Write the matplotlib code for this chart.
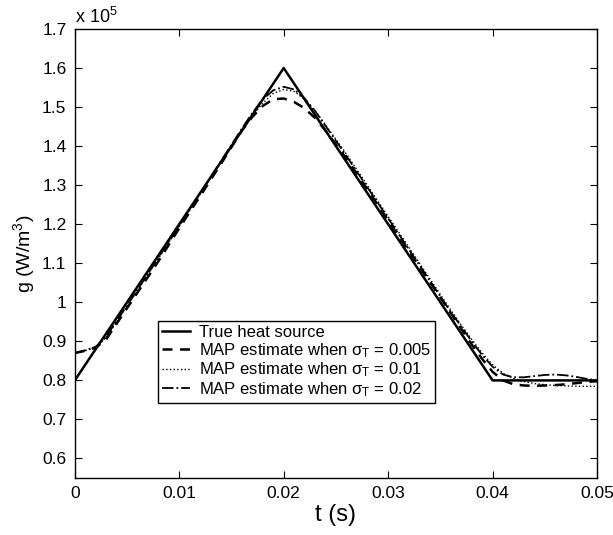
import matplotlib
matplotlib.use("Agg")
import matplotlib.pyplot as plt
from matplotlib.ticker import FormatStrFormatter

plt.rcParams['font.family'] = ['Liberation Sans', 'DejaVu Sans']
plt.rcParams['mathtext.fontset'] = 'custom'
plt.rcParams['mathtext.rm'] = 'Liberation Sans'
plt.rcParams['mathtext.it'] = 'Liberation Sans'

# true heat source (units of 1e5 W/m^3)
t_true = [0.0, 0.02, 0.04, 0.05]
g_true = [0.80, 1.60, 0.80, 0.80]

# MAP estimates
t_est = [0.0, 0.001, 0.002, 0.003, 0.004, 0.005, 0.006, 0.008, 0.010, 0.012,
         0.014, 0.016, 0.017, 0.018, 0.019, 0.020, 0.021, 0.022, 0.023, 0.024,
         0.026, 0.028, 0.030, 0.032, 0.034, 0.036, 0.037, 0.038, 0.039, 0.040,
         0.041, 0.042, 0.043, 0.044, 0.045, 0.046, 0.047, 0.048, 0.049, 0.050]
g_005 = [0.870, 0.876, 0.884, 0.905, 0.945, 0.985, 1.025, 1.105, 1.190, 1.272,
         1.355, 1.440, 1.475, 1.503, 1.520, 1.522, 1.513, 1.497, 1.472, 1.440,
         1.368, 1.290, 1.210, 1.130, 1.052, 0.972, 0.932, 0.892, 0.855, 0.822,
         0.800, 0.790, 0.787, 0.786, 0.787, 0.788, 0.790, 0.793, 0.796, 0.798]
g_01 = [0.870, 0.876, 0.885, 0.910, 0.950, 0.990, 1.030, 1.112, 1.195, 1.278,
        1.360, 1.440, 1.478, 1.510, 1.535, 1.545, 1.540, 1.520, 1.490, 1.455,
        1.380, 1.300, 1.220, 1.140, 1.060, 0.980, 0.942, 0.905, 0.870, 0.840,
        0.818, 0.805, 0.797, 0.792, 0.789, 0.787, 0.786, 0.785, 0.785, 0.785]
g_02 = [0.870, 0.877, 0.886, 0.912, 0.952, 0.992, 1.032, 1.114, 1.196, 1.278,
        1.362, 1.445, 1.485, 1.520, 1.543, 1.552, 1.545, 1.522, 1.490, 1.452,
        1.375, 1.295, 1.215, 1.135, 1.055, 0.975, 0.938, 0.900, 0.865, 0.835,
        0.815, 0.808, 0.808, 0.811, 0.814, 0.815, 0.813, 0.809, 0.804, 0.800]

fig = plt.figure(figsize=(6.13, 5.35), dpi=100)
ax = fig.add_axes([0.122, 0.1065, 0.852, 0.8393])

ax.plot(t_true, g_true, 'k-', lw=1.8, label='True heat source')
ax.plot(t_est, g_005, 'k--', lw=1.8, dashes=(4, 3), label=r'MAP estimate when $\sigma_T$ = 0.005')
ax.plot(t_est, g_01, 'k:', lw=1.0, label=r'MAP estimate when $\sigma_T$ = 0.01')
ax.plot(t_est, g_02, 'k-.', lw=1.3, label=r'MAP estimate when $\sigma_T$ = 0.02')

ax.set_xlim(0, 0.05)
ax.set_ylim(0.55, 1.7)
ax.set_xticks([0, 0.01, 0.02, 0.03, 0.04, 0.05])
ax.set_yticks([0.6, 0.7, 0.8, 0.9, 1.0, 1.1, 1.2, 1.3, 1.4, 1.5, 1.6, 1.7])
ax.xaxis.set_major_formatter(FormatStrFormatter('%g'))
ax.yaxis.set_major_formatter(FormatStrFormatter('%g'))
ax.tick_params(direction='in', top=True, right=True, length=5, labelsize=12.5, pad=6)
for s in ax.spines.values():
    s.set_linewidth(1.0)

ax.set_xlabel('t (s)', fontsize=17, labelpad=2)
ax.set_ylabel(r'g (W/m$^3$)', fontsize=14, labelpad=4)
ax.text(0.0, 1.005, r'x 10$^5$', transform=ax.transAxes, fontsize=13, va='bottom', ha='left')

leg = ax.legend(loc='lower left', bbox_to_anchor=(0.159, 0.167), borderaxespad=0,
                fontsize=12, handlelength=1.7, labelspacing=0.05, handletextpad=0.5,
                borderpad=0.25, fancybox=False, framealpha=1)
leg.get_frame().set_edgecolor('black')
leg.get_frame().set_linewidth(1.0)

fig.savefig('out.png', dpi=100)
